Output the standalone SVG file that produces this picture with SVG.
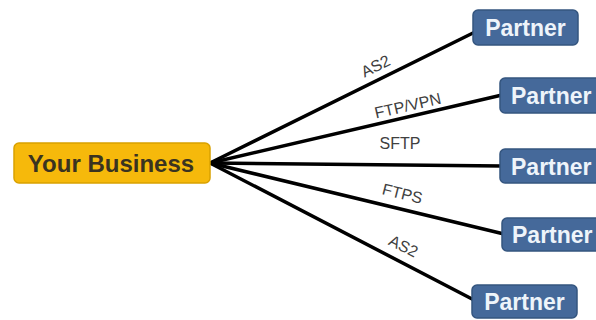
<svg xmlns="http://www.w3.org/2000/svg" width="596" height="320" viewBox="0 0 596 320">
<style>
.biz{fill:#F6B90B;stroke:#D9A100;stroke-width:1.5}
.bt{font-family:"Liberation Sans",Arial,sans-serif;font-weight:bold;font-size:24px;fill:#3a3320}
.pb{fill:#45699A;stroke:#34557F;stroke-width:1.5}
.pt{font-family:"Liberation Sans",Arial,sans-serif;font-weight:bold;font-size:23px;fill:#EEF4FA}
.ln{stroke:#000;stroke-width:3.5;fill:none;stroke-linecap:round}
.lb{font-family:"Liberation Sans",Arial,sans-serif;font-size:16px;fill:#404040;text-anchor:middle}
</style>
<rect width="596" height="320" fill="#fff"/>
<g id="connectors">
<line class="ln" x1="210" y1="163" x2="475" y2="32"/>
<line class="ln" x1="210" y1="163" x2="502" y2="95"/>
<line class="ln" x1="210" y1="163" x2="502" y2="166"/>
<line class="ln" x1="210" y1="163" x2="504" y2="234"/>
<line class="ln" x1="210" y1="163" x2="474" y2="300"/>
<text class="lb" transform="translate(378,71) rotate(-26)">AS2</text>
<text class="lb" transform="translate(409,111) rotate(-13)">FTP/VPN</text>
<text class="lb" transform="translate(400,149)">SFTP</text>
<text class="lb" transform="translate(401,199) rotate(14)">FTPS</text>
<text class="lb" transform="translate(401,251) rotate(27)">AS2</text>
</g>
<g id="your-business">
<rect class="biz" x="14" y="143" width="196" height="40" rx="5"/>
<text class="bt" x="111" y="172" text-anchor="middle">Your Business</text>
</g>
<g id="partner1">
<rect class="pb" x="473" y="10" width="105" height="35" rx="5"/>
<text class="pt" x="525.5" y="36" text-anchor="middle">Partner</text>
</g>
<g id="partner2">
<rect class="pb" x="500" y="78" width="105" height="35" rx="5"/>
<text class="pt" x="511" y="104">Partner</text>
</g>
<g id="partner3">
<rect class="pb" x="500" y="149" width="105" height="34" rx="5"/>
<text class="pt" x="511" y="175">Partner</text>
</g>
<g id="partner4">
<rect class="pb" x="502" y="218" width="105" height="33" rx="5"/>
<text class="pt" x="512" y="243">Partner</text>
</g>
<g id="partner5">
<rect class="pb" x="472" y="285" width="105" height="33" rx="5"/>
<text class="pt" x="524.5" y="310" text-anchor="middle">Partner</text>
</g>
</svg>
